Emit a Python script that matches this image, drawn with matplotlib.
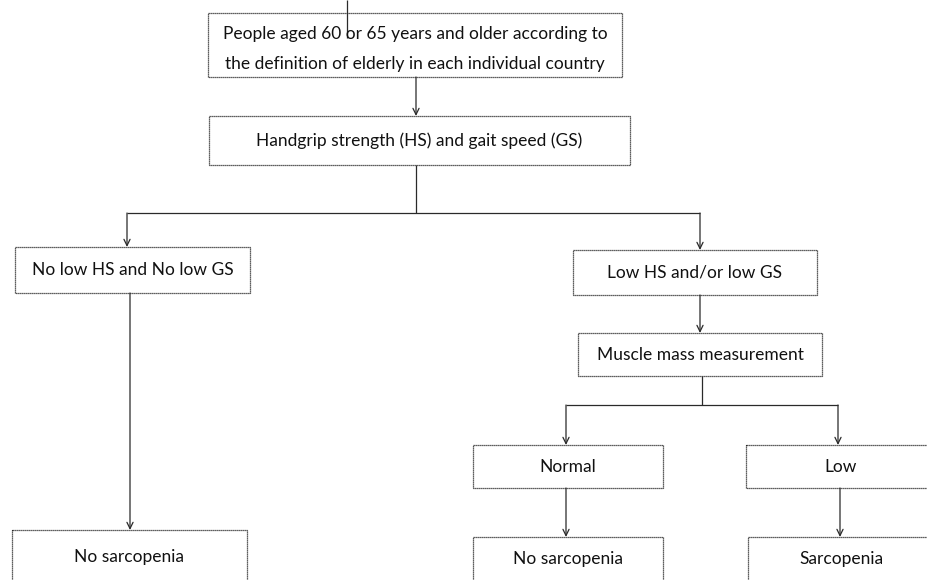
import matplotlib.pyplot as plt
from matplotlib.patches import Rectangle

plt.rcParams['font.family'] = ['Lato', 'DejaVu Sans']

# box texts
labels = [
    "People aged 60 or 65 years and older according to\nthe definition of elderly in each individual country",
    "Handgrip strength (HS) and gait speed (GS)",
    "No low HS and No low GS",
    "Low HS and/or low GS",
    "Muscle mass measurement",
    "Normal",
    "Low",
    "No sarcopenia",
    "No sarcopenia",
    "Sarcopenia",
]

# layout in pixel coordinates: x0, y0, x1, y1
boxes = [
    (208, 13, 622, 77),
    (209, 116, 630, 165),
    (15, 247, 250, 293),
    (573, 250, 817, 295),
    (578, 333, 822, 376),
    (473, 445, 663, 488),
    (746, 445, 935, 488),
    (12, 530, 247, 600),
    (473, 537, 663, 600),
    (748, 537, 935, 600),
]
text_y = [49, None, None, None, None, None, None, 557, 559, 559]

fig = plt.figure(figsize=(9.27, 5.8), dpi=100)
ax = fig.add_axes([0, 0, 1, 1])
ax.set_xlim(0, 927)
ax.set_ylim(580, 0)
ax.axis('off')

lc = '#2a2a2a'
for (x0, y0, x1, y1), lab, ty in zip(boxes, labels, text_y):
    ax.add_patch(Rectangle((x0, y0), x1 - x0, y1 - y0, fill=False,
                           edgecolor=lc, linewidth=0.9, linestyle=(0, (1, 0.6))))
    cx = (x0 + x1) / 2 if x1 < 927 else (x0 + 935) / 2
    cy = (y0 + y1) / 2 if ty is None else ty
    ax.text(cx, cy, lab, ha='center', va='center', fontsize=12.5,
            color='#111111', linespacing=2.1)


def line(xs, ys):
    ax.plot(xs, ys, color=lc, linewidth=0.9, solid_capstyle='butt')


def arrow(x, y0, y1):
    ax.annotate('', xy=(x, y1), xytext=(x, y0),
                arrowprops=dict(arrowstyle='->,head_length=0.45,head_width=0.22',
                                color=lc, linewidth=0.9, shrinkA=0, shrinkB=0))


# incoming line into top box
line([347, 347], [0, 38])
arrow(416, 77, 116)
line([416, 416], [165, 213])
line([127, 700], [213, 213])
arrow(127, 213, 247)
arrow(700, 213, 250)
arrow(700, 295, 333)
line([702, 702], [376, 405])
line([566, 838], [405, 405])
arrow(566, 405, 445)
arrow(838, 405, 445)
arrow(566, 488, 537)
arrow(840, 488, 537)
arrow(130, 293, 530)

plt.savefig('out.png', dpi=100)
